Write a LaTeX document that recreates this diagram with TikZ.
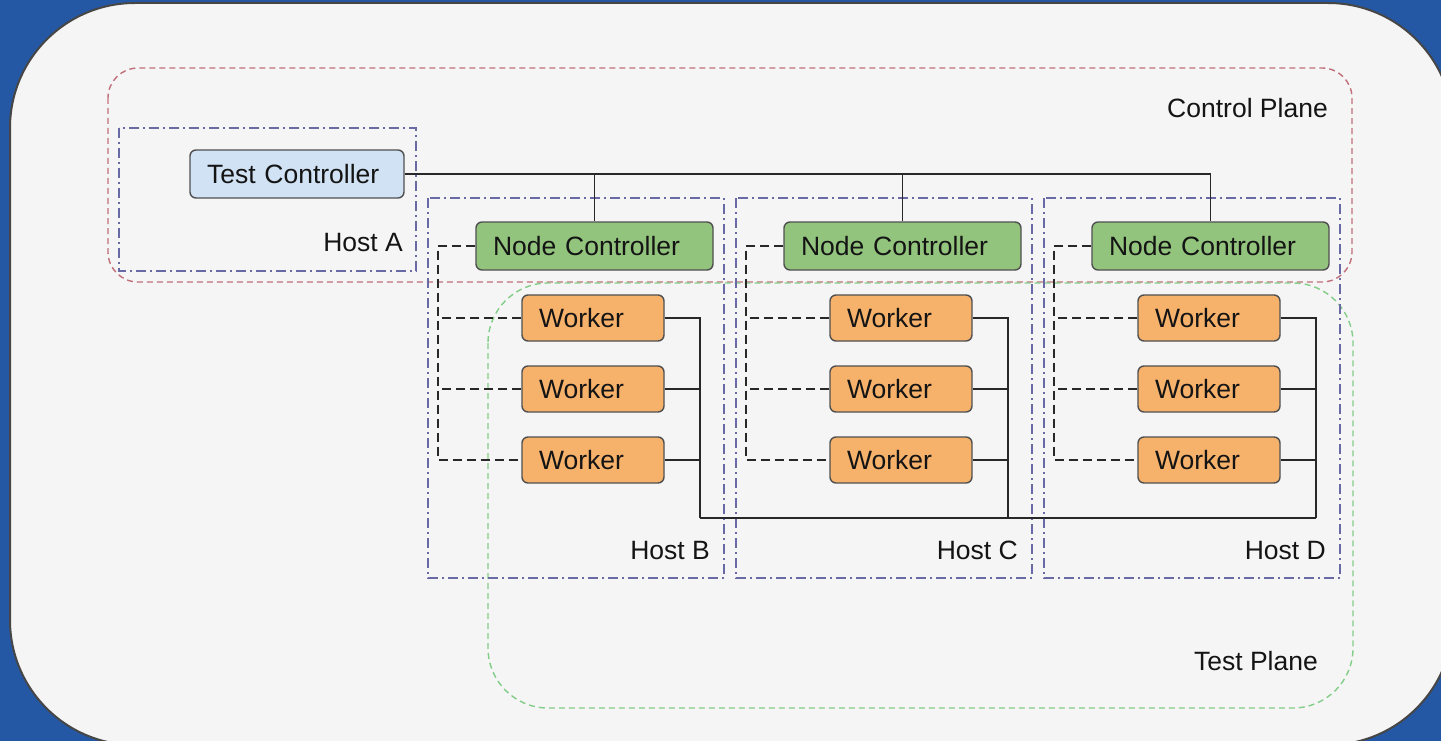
\documentclass[tikz,border=0pt]{standalone}
\usepackage{fontspec}
\setmainfont{Liberation Sans}
\definecolor{bgblue}{RGB}{36,88,165}
\definecolor{panel}{RGB}{245,245,245}
\definecolor{panelborder}{RGB}{70,70,70}
\definecolor{cpred}{RGB}{192,110,122}
\definecolor{tpgreen}{RGB}{130,205,135}
\definecolor{hostblue}{RGB}{105,105,165}
\definecolor{tcfill}{RGB}{208,226,243}
\definecolor{ncfill}{RGB}{147,196,125}
\definecolor{wkfill}{RGB}{246,178,107}
\definecolor{boxline}{RGB}{80,80,80}
\definecolor{txt}{RGB}{20,20,20}
\definecolor{conn}{RGB}{40,40,40}
\begin{document}
\begin{tikzpicture}[x=1pt,y=-1pt,
  every node/.style={font=\fontsize{26.5}{31}\selectfont, text=txt},
  panelbox/.style={fill=panel, draw=panelborder, line width=2pt, rounded corners=125pt},
  cplane/.style={draw=cpred, line width=1.4pt, dash pattern=on 6pt off 4pt, rounded corners=30pt},
  tplane/.style={draw=tpgreen, line width=1.4pt, dash pattern=on 6pt off 4pt, rounded corners=60pt},
  hostbox/.style={draw=hostblue, line width=1.4pt, dash pattern=on 10pt off 4pt on 2pt off 4pt},
  hostlabel/.style={anchor=base east, inner sep=0pt},
  planelabel/.style={anchor=base east, inner sep=0pt},
  boxbase/.style={draw=boxline, line width=1.4pt, rounded corners=6pt, inner xsep=17pt, inner ysep=0pt, align=left},
  tcbox/.style={boxbase, fill=tcfill, text width=180pt, minimum height=48pt},
  ncbox/.style={boxbase, fill=ncfill, text width=203pt, minimum height=48pt},
  wkbox/.style={boxbase, fill=wkfill, text width=108pt, minimum height=46pt},
  solidconn/.style={draw=conn, line width=1.4pt},
  dashconn/.style={draw=conn, line width=1.4pt, dash pattern=on 9pt off 5pt}
]
\fill[bgblue] (0,0) rectangle (1441,741);
\useasboundingbox (0,0) rectangle (1441,741);
\begin{scope}
\clip (0,0) rectangle (1441,741);
\draw[panelbox] (10,3) rectangle (1453,745);
\end{scope}

% planes
\draw[cplane] (108,68) rectangle (1352,282);
\node[planelabel] (cpl) at (1328,118) {Control Plane};
\draw[tplane] (488,283) rectangle (1353,708);
\node[planelabel] (tpl) at (1318,670) {Test Plane};

% host A
\draw[hostbox] (119,128) rectangle (416,271);
\node[hostlabel] (hla) at (403,251) {Host A};
\node[tcbox] (tc) at (297,174) {Test Controller};

% hosts B, C, D
\foreach \h/\i in {B/0,C/1,D/2}{
  \pgfmathsetmacro{\off}{308*\i}
  \draw[hostbox] (428+\off,198) rectangle (724+\off,578);
  \node[hostlabel] (hl\h) at (710+\off,559) {Host \h};
  \node[ncbox] (nc\h) at (594.5+\off,246) {Node Controller};
  \node[wkbox] (w\h1) at (593+\off,318) {Worker};
  \node[wkbox] (w\h2) at (593+\off,389) {Worker};
  \node[wkbox] (w\h3) at (593+\off,460) {Worker};
  \coordinate (dl\h) at (438+\off,246);
  \coordinate (bus\h) at (700+\off,518);
  % dashed control links
  \draw[dashconn] (nc\h.west) -- (dl\h) |- (w\h3.west);
  \draw[dashconn] (w\h1.west) -- (w\h1.west -| dl\h);
  \draw[dashconn] (w\h2.west) -- (w\h2.west -| dl\h);
  % solid worker links
  \draw[solidconn] (w\h1.east) -| (bus\h);
  \draw[solidconn] (w\h2.east) -- (w\h2.east -| bus\h);
  \draw[solidconn] (w\h3.east) -- (w\h3.east -| bus\h);
}
\draw[solidconn] (busB) -- (busD);

% test controller to node controllers
\draw[solidconn] (tc.east) -| (ncD.north);
\draw[solidconn] (tc.east -| ncB.north) -- (ncB.north);
\draw[solidconn] (tc.east -| ncC.north) -- (ncC.north);
\end{tikzpicture}
\end{document}
